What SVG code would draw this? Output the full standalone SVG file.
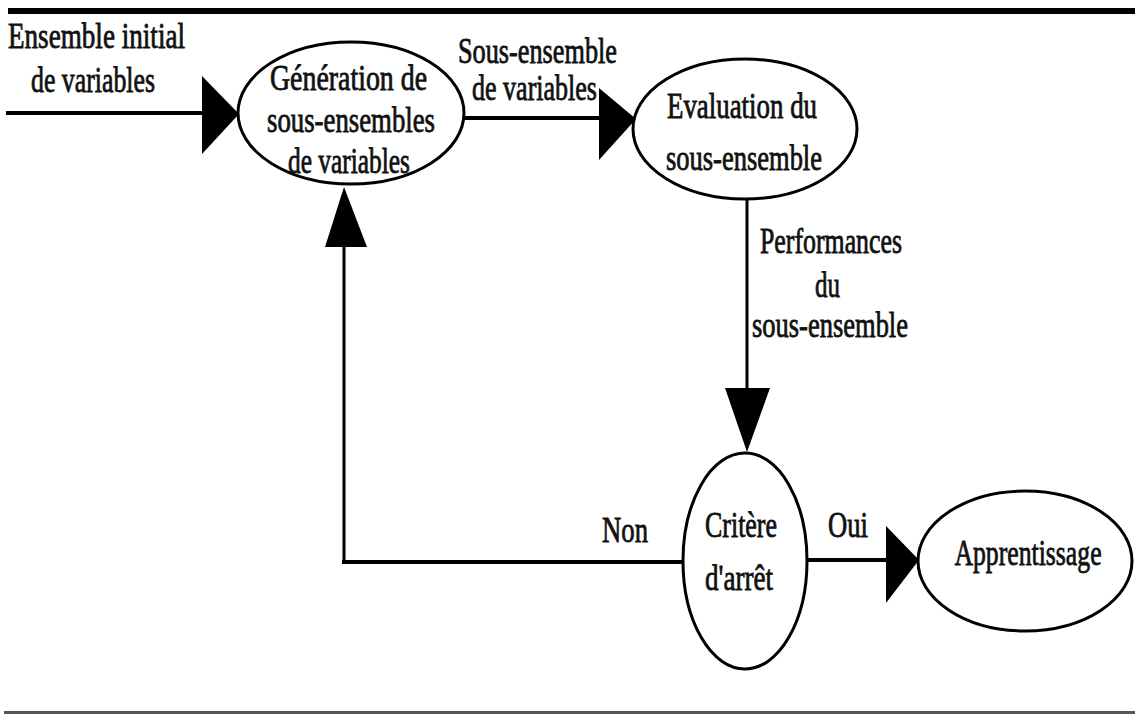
<svg xmlns="http://www.w3.org/2000/svg" width="1135" height="715" viewBox="0 0 1135 715">
  <style>
    .node { fill: #fff; stroke: #000; stroke-width: 3; }
    .wire { fill: none; stroke: #000; stroke-linecap: square; }
    .h { stroke-width: 4; }
    .v { stroke-width: 3; }
    .head { fill: #000; stroke: none; }
    text { font-family: "Liberation Serif", "Times New Roman", serif; font-size: 35px; fill: #111; stroke: #111; stroke-width: 0.8; }
    .mid { text-anchor: middle; }
  </style>
  <rect width="1135" height="715" fill="#fff"/>

  <!-- frame rules -->
  <rect x="8" y="8" width="1127" height="6" fill="#000"/>
  <rect x="4" y="711" width="1131" height="3" fill="#555"/>

  <!-- connectors -->
  <g id="connectors">
    <line class="wire h" x1="8" y1="113" x2="204" y2="113"/>
    <polygon class="head" points="202,76 202,154 239,114"/>

    <line class="wire h" x1="464" y1="118" x2="601" y2="118"/>
    <polygon class="head" points="599,88 599,160 636,119"/>

    <line class="wire v" x1="747" y1="199" x2="747" y2="390"/>
    <polygon class="head" points="725,388 770,388 747,452"/>

    <line class="wire v" x1="344" y1="562" x2="344" y2="245"/>
    <line class="wire h" x1="344" y1="562" x2="683" y2="562"/>
    <polygon class="head" points="325,247 367,247 344,187"/>

    <line class="wire h" x1="806" y1="560" x2="888" y2="560"/>
    <polygon class="head" points="886,526 886,603 919,560"/>

    <text x="8" y="48" textLength="177" lengthAdjust="spacingAndGlyphs">Ensemble initial</text>
    <text x="31" y="92" textLength="124" lengthAdjust="spacingAndGlyphs">de variables</text>
    <text x="458" y="63" textLength="159" lengthAdjust="spacingAndGlyphs">Sous-ensemble</text>
    <text x="472" y="100" textLength="125" lengthAdjust="spacingAndGlyphs">de variables</text>
    <text x="760" y="253" textLength="142" lengthAdjust="spacingAndGlyphs">Performances</text>
    <text x="815" y="297" textLength="25" lengthAdjust="spacingAndGlyphs">du</text>
    <text x="752" y="337" textLength="156" lengthAdjust="spacingAndGlyphs">sous-ensemble</text>
    <text x="602" y="542" textLength="46" lengthAdjust="spacingAndGlyphs">Non</text>
    <text x="828" y="537" textLength="40" lengthAdjust="spacingAndGlyphs">Oui</text>
  </g>

  <!-- nodes -->
  <g id="generation">
    <ellipse class="node" cx="351" cy="113" rx="113" ry="71"/>
    <text x="270" y="90" textLength="157" lengthAdjust="spacingAndGlyphs">Génération de</text>
    <text x="267" y="132" textLength="168" lengthAdjust="spacingAndGlyphs">sous-ensembles</text>
    <text x="288" y="173" textLength="122" lengthAdjust="spacingAndGlyphs">de variables</text>
  </g>

  <g id="evaluation">
    <ellipse class="node" cx="745" cy="129" rx="112" ry="70"/>
    <text x="667" y="118" textLength="150" lengthAdjust="spacingAndGlyphs">Evaluation du</text>
    <text x="666" y="170" textLength="156" lengthAdjust="spacingAndGlyphs">sous-ensemble</text>
  </g>

  <g id="critere">
    <ellipse class="node" cx="745" cy="561" rx="62" ry="108"/>
    <text x="705" y="537" textLength="72" lengthAdjust="spacingAndGlyphs">Critère</text>
    <text x="705" y="590" textLength="68" lengthAdjust="spacingAndGlyphs">d'arrêt</text>
  </g>

  <g id="apprentissage">
    <ellipse class="node" cx="1025" cy="561" rx="107" ry="70"/>
    <!-- narrowed by a horizontal scale so the word sits well inside the ellipse -->
    <text class="mid" transform="translate(1028 565) scale(0.735 1)">Apprentissage</text>
  </g>
</svg>
